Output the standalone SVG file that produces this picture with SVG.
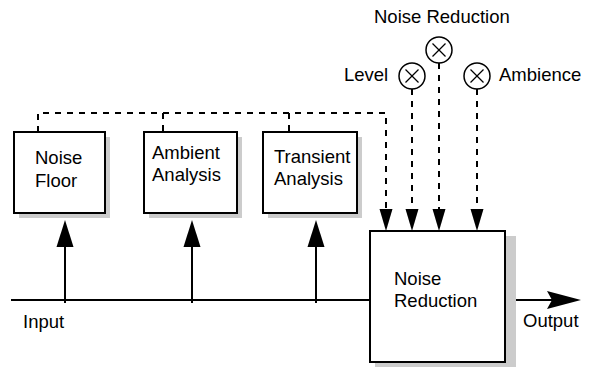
<svg xmlns="http://www.w3.org/2000/svg" width="591" height="368" viewBox="0 0 591 368">
<style>
.box{fill:#fff;stroke:#000;stroke-width:2}
.shadow{fill:#cccccc}
.t{font-family:"Liberation Sans",Arial,sans-serif;font-size:18.5px;fill:#000}
.solid{stroke:#000;stroke-width:2;fill:none}
.dash{stroke:#000;stroke-width:2;fill:none;stroke-dasharray:6,6}
.knob{fill:#fff;stroke:#000;stroke-width:1.5}
.x{stroke:#000;stroke-width:1.3}
.head{fill:#000}
</style>
<rect width="591" height="368" fill="#fff"/>
<g id="connectors">
  <line class="solid" x1="11" y1="300" x2="370" y2="300"/>
  <line class="solid" x1="505" y1="300" x2="555" y2="300"/>
  <polygon class="head" points="581,300 547,291 552,300 547,309"/>
  <line class="solid" x1="65" y1="303" x2="65" y2="240"/>
  <polygon class="head" points="65,220 56.5,247 73.5,247"/>
  <line class="solid" x1="192" y1="303" x2="192" y2="240"/>
  <polygon class="head" points="192,220 183.5,247 200.5,247"/>
  <line class="solid" x1="316" y1="303" x2="316" y2="240"/>
  <polygon class="head" points="316,220 307.5,247 324.5,247"/>
  <path class="dash" d="M38,132 V113 H386 V212"/>
  <line class="dash" x1="163" y1="113" x2="163" y2="132"/>
  <line class="dash" x1="289" y1="113" x2="289" y2="132"/>
  <polygon class="head" points="386,231 379.5,209 392.5,209"/>
  <line class="dash" x1="412" y1="89" x2="412" y2="212"/>
  <polygon class="head" points="412,231 405.5,209 418.5,209"/>
  <line class="dash" x1="439" y1="63" x2="439" y2="212"/>
  <polygon class="head" points="439,231 432.5,209 445.5,209"/>
  <line class="dash" x1="477" y1="89" x2="477" y2="212"/>
  <polygon class="head" points="477,231 470.5,209 483.5,209"/>
</g>
<g id="noise-floor">
  <rect class="shadow" x="19" y="137" width="91" height="81"/>
  <rect class="box" x="14" y="132" width="91" height="81"/>
  <text class="t" x="35" y="164">Noise</text>
  <text class="t" x="35" y="187">Floor</text>
</g>
<g id="ambient-analysis">
  <rect class="shadow" x="149" y="137" width="93" height="81"/>
  <rect class="box" x="144" y="132" width="93" height="81"/>
  <text class="t" x="152" y="159">Ambient</text>
  <text class="t" x="152" y="181">Analysis</text>
</g>
<g id="transient-analysis">
  <rect class="shadow" x="268" y="137" width="94" height="81"/>
  <rect class="box" x="263" y="132" width="94" height="81"/>
  <text class="t" x="274" y="163">Transient</text>
  <text class="t" x="274" y="185">Analysis</text>
</g>
<g id="noise-reduction">
  <rect class="shadow" x="375" y="236" width="141" height="131"/>
  <rect class="box" x="370" y="231" width="135" height="131"/>
  <text class="t" x="394" y="285">Noise</text>
  <text class="t" x="394" y="307">Reduction</text>
</g>
<g id="knob-noise-reduction">
  <text class="t" x="374" y="23">Noise Reduction</text>
  <circle class="knob" cx="439" cy="50" r="13"/>
  <line class="x" x1="432.5" y1="43.5" x2="445.5" y2="56.5"/>
  <line class="x" x1="445.5" y1="43.5" x2="432.5" y2="56.5"/>
</g>
<g id="knob-level">
  <text class="t" x="344" y="81">Level</text>
  <circle class="knob" cx="412" cy="76" r="13"/>
  <line class="x" x1="405.5" y1="69.5" x2="418.5" y2="82.5"/>
  <line class="x" x1="418.5" y1="69.5" x2="405.5" y2="82.5"/>
</g>
<g id="knob-ambience">
  <text class="t" x="499" y="81">Ambience</text>
  <circle class="knob" cx="477" cy="76" r="13"/>
  <line class="x" x1="470.5" y1="69.5" x2="483.5" y2="82.5"/>
  <line class="x" x1="483.5" y1="69.5" x2="470.5" y2="82.5"/>
</g>
<g id="labels">
  <text class="t" x="23" y="328">Input</text>
  <text class="t" x="523" y="327">Output</text>
</g>
</svg>
